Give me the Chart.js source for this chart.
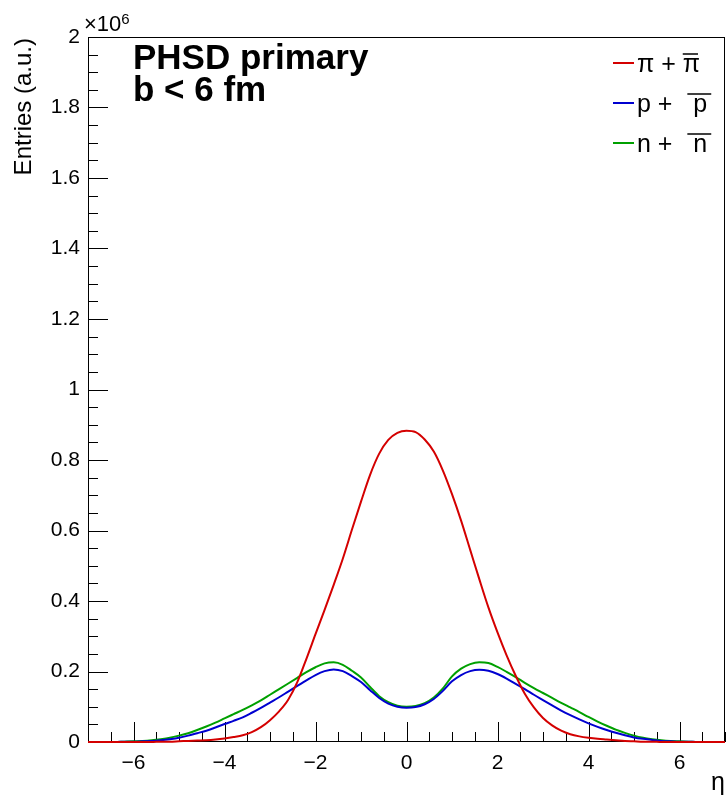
<!DOCTYPE html>
<html>
<head>
<meta charset="utf-8">
<script src="https://cdn.jsdelivr.net/npm/chart.js@4.4.0/dist/chart.umd.min.js"></script>
<style>
  html, body { margin: 0; padding: 0; background: #fff; }
  canvas { display: block; }
</style>
</head>
<body>
<canvas id="etaChart" width="727" height="798"></canvas>
<script>
// pseudorapidity bin centres
const etaValues = [
  -7.0, -6.8, -6.6, -6.4, -6.2, -6.0, -5.8, -5.6, -5.4, -5.2,
  -5.0, -4.8, -4.6, -4.4, -4.2, -4.0, -3.8, -3.6, -3.4, -3.2,
  -3.0, -2.8, -2.6, -2.4, -2.2, -2.0, -1.8, -1.6, -1.4, -1.2,
  -1.0, -0.8, -0.6, -0.4, -0.2, 0.0, 0.2, 0.4, 0.6, 0.8,
  1.0, 1.2, 1.4, 1.6, 1.8, 2.0, 2.2, 2.4, 2.6, 2.8,
  3.0, 3.2, 3.4, 3.6, 3.8, 4.0, 4.2, 4.4, 4.6, 4.8,
  5.0, 5.2, 5.4, 5.6, 5.8, 6.0, 6.2, 6.4, 6.6, 6.8, 7.0
];

// entries in units of 10^6
const pionValues = [
  0, 0, 0, 0, 0, 0, 0, 0, 0.001, 0.001,
  0.002, 0.003, 0.004, 0.005, 0.007, 0.010, 0.014, 0.019, 0.028, 0.042,
  0.062, 0.087, 0.120, 0.170, 0.236, 0.306, 0.375, 0.446, 0.520, 0.602,
  0.682, 0.758, 0.818, 0.857, 0.877, 0.883, 0.879, 0.858, 0.824, 0.770,
  0.703, 0.628, 0.545, 0.462, 0.382, 0.311, 0.246, 0.188, 0.137, 0.098,
  0.068, 0.047, 0.032, 0.022, 0.016, 0.012, 0.009, 0.007, 0.005, 0.003,
  0.002, 0.001, 0.001, 0, 0, 0, 0, 0, 0, 0, 0
];

const protonValues = [
  0, 0, 0, 0, 0.001, 0.001, 0.002, 0.003, 0.005, 0.008,
  0.012, 0.018, 0.025, 0.032, 0.041, 0.051, 0.060, 0.070, 0.083, 0.097,
  0.112, 0.127, 0.143, 0.159, 0.175, 0.190, 0.201, 0.206, 0.201, 0.187,
  0.170, 0.147, 0.125, 0.109, 0.100, 0.097, 0.099, 0.107, 0.122, 0.145,
  0.172, 0.190, 0.201, 0.205, 0.202, 0.193, 0.180, 0.165, 0.150, 0.134,
  0.119, 0.104, 0.089, 0.076, 0.064, 0.053, 0.043, 0.034, 0.026, 0.019,
  0.013, 0.009, 0.006, 0.003, 0.002, 0.001, 0.001, 0, 0, 0, 0
];

const neutronValues = [
  0, 0, 0, 0, 0.001, 0.002, 0.003, 0.005, 0.008, 0.012,
  0.018, 0.025, 0.034, 0.044, 0.055, 0.067, 0.079, 0.091, 0.104, 0.118,
  0.134, 0.150, 0.166, 0.182, 0.198, 0.212, 0.223, 0.226, 0.219, 0.202,
  0.183, 0.156, 0.130, 0.113, 0.103, 0.100, 0.102, 0.110, 0.126, 0.152,
  0.186, 0.208, 0.221, 0.226, 0.224, 0.213, 0.199, 0.184, 0.168, 0.153,
  0.139, 0.125, 0.111, 0.098, 0.085, 0.071, 0.058, 0.046, 0.035, 0.026,
  0.018, 0.012, 0.008, 0.005, 0.003, 0.002, 0.001, 0, 0, 0, 0
];

const xTickValues = [-6, -4, -2, 0, 2, 4, 6];
const xTickLabels = ['\u22126', '\u22124', '\u22122', '0', '2', '4', '6'];
const yTickValues = [0, 0.2, 0.4, 0.6, 0.8, 1.0, 1.2, 1.4, 1.6, 1.8, 2.0];
const yTickLabels = ['0', '0.2', '0.4', '0.6', '0.8', '1', '1.2', '1.4', '1.6', '1.8', '2'];

const seriesNames = ['\u03c0 + ', 'p +  ', 'n +  '];
const seriesBars = ['\u03c0', 'p', 'n'];
const seriesColors = ['#d40000', '#0000d0', '#00a000'];

const FONT = '"Liberation Sans", Arial, Helvetica, sans-serif';

const toPoints = (vals) => etaValues.map((x, i) => ({ x, y: vals[i] }));

// ROOT style frame with inward ticks
const frameTicks = {
  id: 'frameTicks',
  beforeDatasetsDraw: (chart) => {
    const { ctx, chartArea: a, scales: { x, y } } = chart;
    ctx.save();
    ctx.strokeStyle = '#000';
    ctx.lineWidth = 1;
    ctx.beginPath();
    for (let k = 0; k <= 28; k++) {
      const v = -7 + k * 0.5;
      const px = Math.round(x.getPixelForValue(v)) + 0.5;
      const len = (k % 4 === 2) ? 20 : 10;
      ctx.moveTo(px, a.bottom);
      ctx.lineTo(px, a.bottom - len);
    }
    for (let k = 0; k <= 40; k++) {
      const py = Math.round(y.getPixelForValue(k * 0.05)) + 0.5;
      const len = (k % 4 === 0) ? 20 : 10;
      ctx.moveTo(a.left, py);
      ctx.lineTo(a.left + len, py);
    }
    ctx.stroke();
    ctx.strokeRect(a.left + 0.5, a.top + 0.5, a.width - 1, a.height - 1);
    ctx.restore();
  }
};

// titles, exponent, legend
const annotations = {
  id: 'annotations',
  afterDraw: (chart) => {
    const { ctx, chartArea: a } = chart;
    ctx.save();
    ctx.fillStyle = '#000';
    ctx.textBaseline = 'alphabetic';

    ctx.font = '22px ' + FONT;
    ctx.textAlign = 'left';
    ctx.fillText('\u00d710', 84, 31);
    const w = ctx.measureText('\u00d710').width;
    ctx.font = '15px ' + FONT;
    ctx.fillText('6', 84 + w, 24);

    ctx.font = '25px ' + FONT;
    ctx.textAlign = 'right';
    ctx.fillText('\u03b7', a.right, 790);

    ctx.font = '24px ' + FONT;
    ctx.save();
    ctx.translate(31, a.top + 1);
    ctx.rotate(-Math.PI / 2);
    ctx.textAlign = 'right';
    ctx.fillText('Entries (a.u.)', 0, 0);
    ctx.restore();

    ctx.font = 'bold 35px ' + FONT;
    ctx.textAlign = 'left';
    ctx.fillText('PHSD primary', 133, 69);
    ctx.fillText('b < 6 fm', 133, 101);

    ctx.font = '25px ' + FONT;
    seriesNames.forEach((name, i) => {
      const ly = 63 + i * 40;
      ctx.strokeStyle = seriesColors[i];
      ctx.lineWidth = 2;
      ctx.beginPath();
      ctx.moveTo(613, ly);
      ctx.lineTo(634, ly);
      ctx.stroke();
      const tx = 637;
      const base = ly + 9;
      ctx.fillText(name, tx, base);
      const off = ctx.measureText(name).width + (i === 0 ? 0 : 7);
      ctx.fillText(seriesBars[i], tx + off, base);
      const bw = ctx.measureText(seriesBars[i]).width;
      const ext = i === 0 ? 0 : 6;
      ctx.strokeStyle = '#000';
      ctx.lineWidth = 1.5;
      ctx.beginPath();
      ctx.moveTo(tx + off - ext, base - 18);
      ctx.lineTo(tx + off + bw + ext - 2, base - 18);
      ctx.stroke();
    });
    ctx.restore();
  }
};

const makeSet = (vals, color) => ({
  data: toPoints(vals),
  borderColor: color,
  borderWidth: 2,
  pointRadius: 0,
  cubicInterpolationMode: 'monotone',
  fill: false,
  clip: false
});

new Chart(document.getElementById('etaChart').getContext('2d'), {
  type: 'line',
  data: {
    datasets: [
      makeSet(pionValues, seriesColors[0]),
      makeSet(protonValues, seriesColors[1]),
      makeSet(neutronValues, seriesColors[2])
    ]
  },
  options: {
    responsive: false,
    animation: false,
    layout: { padding: { top: 37, right: 2, left: 0, bottom: 0 } },
    plugins: { legend: { display: false }, tooltip: { enabled: false } },
    scales: {
      x: {
        type: 'linear',
        min: -7,
        max: 7,
        grid: { display: false, drawTicks: false },
        border: { display: false },
        afterBuildTicks: (scale) => { scale.ticks = xTickValues.map(v => ({ value: v })); },
        afterFit: (scale) => { scale.height = 56; },
        ticks: {
          color: '#000',
          font: { family: FONT, size: 21 },
          padding: 9,
          maxRotation: 0,
          autoSkip: false,
          callback: (v) => xTickLabels[xTickValues.indexOf(v)]
        }
      },
      y: {
        type: 'linear',
        min: 0,
        max: 2,
        grid: { display: false, drawTicks: false },
        border: { display: false },
        afterBuildTicks: (scale) => { scale.ticks = yTickValues.map(v => ({ value: v })); },
        afterFit: (scale) => { scale.width = 88; },
        ticks: {
          color: '#000',
          font: { family: FONT, size: 21 },
          padding: 8,
          autoSkip: false,
          callback: (v) => yTickLabels[yTickValues.indexOf(v)]
        }
      }
    }
  },
  plugins: [frameTicks, annotations]
});
</script>
</body>
</html>
